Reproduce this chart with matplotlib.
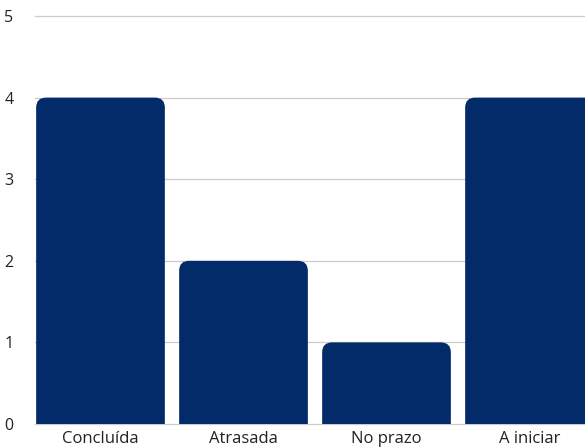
import matplotlib
matplotlib.use('Agg')
import matplotlib.pyplot as plt
from matplotlib.path import Path
from matplotlib.patches import PathPatch

# Dados do gráfico
categorias = ['Concluída', 'Atrasada', 'No prazo', 'A iniciar']
quantidades = [4, 2, 1, 4]
ticks_y = [0, 1, 2, 3, 4, 5]

plt.rcParams['font.family'] = ['Open Sans', 'DejaVu Sans']

W, H = 585, 448
fig = plt.figure(figsize=(W / 100, H / 100), dpi=100)

# Eixo: começa em x=35 px e vai até a borda direita (última barra cortada)
ax_left, ax_bottom, ax_top = 35, 24, 16
ax = fig.add_axes([ax_left / W, ax_bottom / H, (W - ax_left) / W, (H - ax_bottom - ax_top) / H])

passo_px = 143.0       # distância entre centros das barras
centro0_px = 100.5     # centro da primeira barra
x_min = (ax_left - centro0_px) / passo_px
x_max = (W - centro0_px) / passo_px
ax.set_xlim(x_min, x_max)
ax.set_ylim(0, 5)

cor_barra = '#032b69'
largura = 0.9
px_por_y = (H - ax_bottom - ax_top) / 5.0
rx = 10 / passo_px
ry = 10 / px_por_y

# Barras com cantos superiores arredondados
for i, v in enumerate(quantidades):
    x0, x1 = i - largura / 2, i + largura / 2
    verts = [
        (x0, 0), (x0, v - ry), (x0, v), (x0 + rx, v),
        (x1 - rx, v), (x1, v), (x1, v - ry), (x1, 0), (x0, 0),
    ]
    codes = [Path.MOVETO, Path.LINETO, Path.CURVE3, Path.CURVE3,
             Path.LINETO, Path.CURVE3, Path.CURVE3, Path.LINETO, Path.CLOSEPOLY]
    ax.add_patch(PathPatch(Path(verts, codes), facecolor=cor_barra, edgecolor='none', zorder=3))

# Grade horizontal
for t in ticks_y:
    ax.axhline(t, color='#cccccc', linewidth=0.9, zorder=1, clip_on=False)

for s in ax.spines.values():
    s.set_visible(False)

ax.set_yticks(ticks_y)
ax.set_yticklabels([str(t) for t in ticks_y], fontsize=11.5, color='#222222')
ax.tick_params(axis='y', length=0, pad=22)
for lbl in ax.get_yticklabels():
    lbl.set_horizontalalignment('left')

ax.set_xticks(range(len(categorias)))
ax.set_xticklabels(categorias, fontsize=12, color='#222222')
ax.tick_params(axis='x', length=0, pad=5)

fig.savefig('out.png', dpi=100)
